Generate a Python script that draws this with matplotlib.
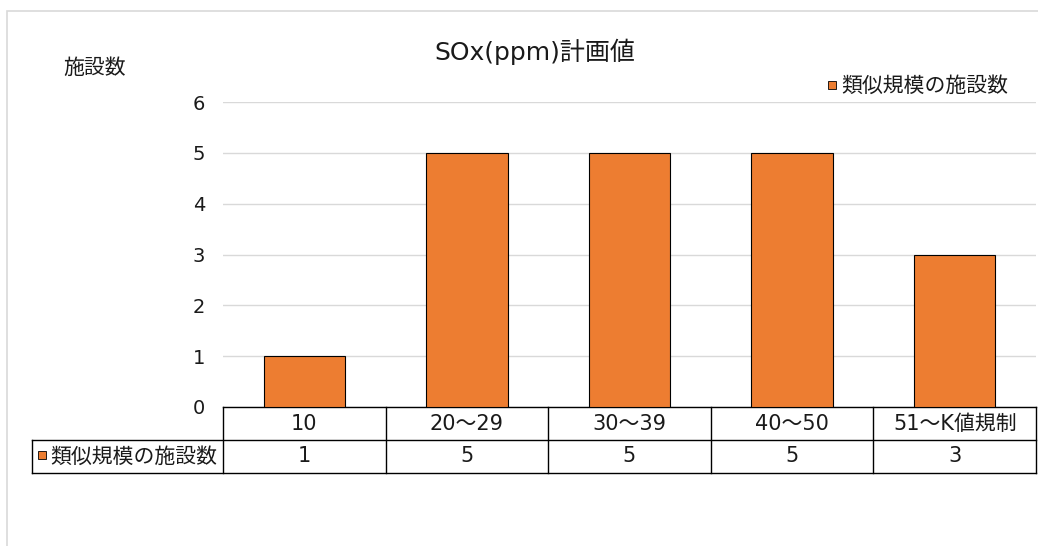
import matplotlib
matplotlib.use("Agg")
import matplotlib.pyplot as plt
from matplotlib.patches import Rectangle
from matplotlib.transforms import blended_transform_factory

FONTS = ['DejaVu Sans', 'Noto Sans CJK JP']
plt.rcParams['font.family'] = FONTS

categories = ['10', '20～29', '30～39', '40～50', '51～K値規制']
values = [1, 5, 5, 5, 3]
series_name = '類似規模の施設数'
title = 'SOx(ppm)計画値'
ylabel = '施設数'
yticks = [0, 1, 2, 3, 4, 5, 6]

W, H = 1038, 546
fig = plt.figure(figsize=(W / 100, H / 100), dpi=100)

def fx(px):
    return px / W

def fy(py):
    return 1 - py / H

# outer frame
fig.patches.append(Rectangle((fx(7), fy(560)), fx(1045) - fx(7), fy(11) - fy(560),
                             transform=fig.transFigure, fill=False,
                             edgecolor='#d9d9d9', linewidth=1.2))

left, right, top, bottom = 223, 1036, 102, 407
ax = fig.add_axes([fx(left), fy(bottom), fx(right) - fx(left), fy(top) - fy(bottom)])

bar_color = '#ED7D31'
text_color = '#1a1a1a'
x = list(range(len(categories)))
ax.bar(x, values, width=0.5, color=bar_color, edgecolor='#000000', linewidth=0.8, zorder=3)
ax.set_xlim(-0.5, len(categories) - 0.5)
ax.set_ylim(0, 6)
ax.set_yticks(yticks)
ax.set_yticklabels([str(t) for t in yticks], fontsize=14, color=text_color)
ax.tick_params(axis='y', length=0, pad=13)
ax.set_xticks([])
for s in ax.spines.values():
    s.set_visible(False)
ax.grid(axis='y', color='#d9d9d9', linewidth=1.0, zorder=0)
ax.set_axisbelow(True)

# title and axis label
fig.text(fx(535), fy(52), title, ha='center', va='center', fontsize=18, color=text_color)
fig.text(fx(95), fy(68), ylabel, ha='center', va='center', fontsize=15, color=text_color)

# legend
fig.patches.append(Rectangle((fx(828), fy(89)), fx(8), fy(81) - fy(89), transform=fig.transFigure,
                             facecolor=bar_color, edgecolor='#000000', linewidth=0.6))
fig.text(fx(841), fy(86), series_name, ha='left', va='center', fontsize=15, color=text_color)

# data table under the axis
tr = blended_transform_factory(ax.transData, fig.transFigure)
n = len(categories)
lw = 1.0
lc = '#000000'
y0, y1, y2 = fy(407), fy(440), fy(473)
xl = -0.5 - (left - 32) / ((right - left) / n)
ax.plot([-0.5, n - 0.5], [y0, y0], transform=tr, color=lc, lw=lw, clip_on=False)
ax.plot([xl, n - 0.5], [y1, y1], transform=tr, color=lc, lw=lw, clip_on=False)
ax.plot([xl, n - 0.5], [y2, y2], transform=tr, color=lc, lw=lw, clip_on=False)
ax.plot([xl, xl], [y1, y2], transform=tr, color=lc, lw=lw, clip_on=False)
for i in range(n + 1):
    ax.plot([i - 0.5, i - 0.5], [y0, y2], transform=tr, color=lc, lw=lw, clip_on=False)
for i, (c, v) in enumerate(zip(categories, values)):
    ax.text(i, (y0 + y1) / 2, c, transform=tr, ha='center', va='center', fontsize=15, color=text_color)
    ax.text(i, (y1 + y2) / 2, str(v), transform=tr, ha='center', va='center', fontsize=15, color=text_color)

# row label with legend key
fig.patches.append(Rectangle((fx(38), fy(459)), fx(8), fy(451) - fy(459), transform=fig.transFigure,
                             facecolor=bar_color, edgecolor='#000000', linewidth=0.6))
fig.text(fx(50), (y1 + y2) / 2, series_name, ha='left', va='center', fontsize=15, color=text_color)

fig.savefig('out.png', dpi=100)
